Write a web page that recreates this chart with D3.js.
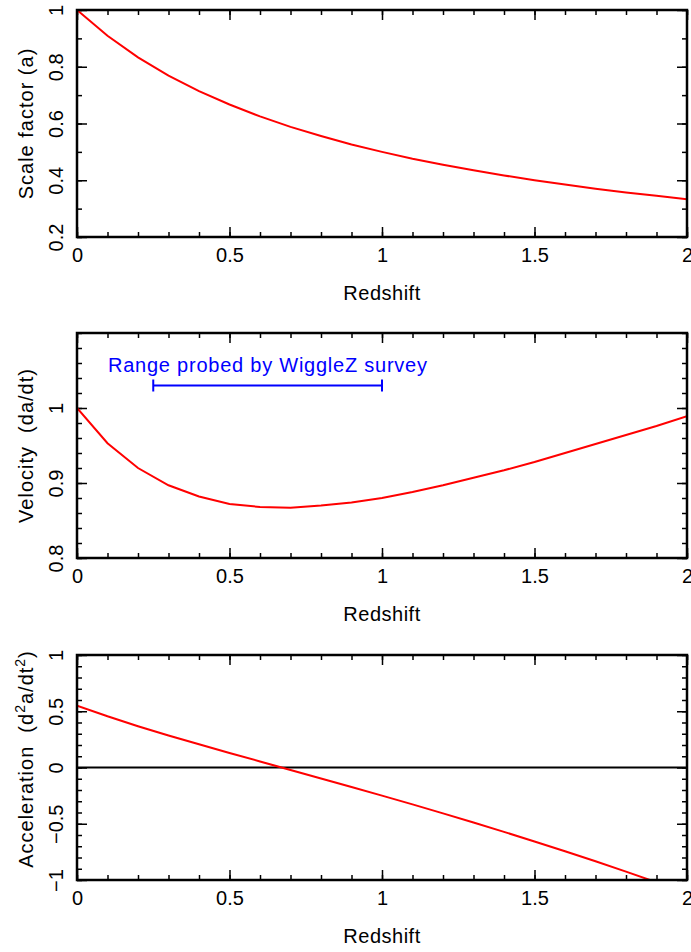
<!DOCTYPE html>
<html>
<head>
<meta charset="utf-8">
<script src="https://cdn.jsdelivr.net/npm/d3@7"></script>
<style>
  body { margin: 0; background: #fff; }
  svg { display: block; }
  text { font-family: "Liberation Sans", Arial, sans-serif; fill: #000; }
</style>
</head>
<body>
<div id="chart"></div>
<script>
// redshift grid used for all three curves
var redshift = [0, 0.1, 0.2, 0.3, 0.4, 0.5, 0.6, 0.7, 0.8, 0.9, 1.0,
                1.1, 1.2, 1.3, 1.4, 1.5, 1.6, 1.7, 1.8, 1.9, 2.0];

var scaleFactor = [1.000, 0.909, 0.833, 0.769, 0.714, 0.667, 0.625, 0.588, 0.556, 0.526, 0.500,
                   0.476, 0.455, 0.435, 0.417, 0.400, 0.385, 0.370, 0.357, 0.345, 0.333];

var velocity = [1.000, 0.953, 0.920, 0.897, 0.882, 0.872, 0.868, 0.867, 0.870, 0.874, 0.880,
                0.888, 0.897, 0.907, 0.917, 0.928, 0.940, 0.952, 0.964, 0.976, 0.989];

var acceleration = [0.550, 0.455, 0.367, 0.285, 0.206, 0.129, 0.054, -0.022, -0.097, -0.173, -0.250,
                    -0.328, -0.408, -0.489, -0.572, -0.658, -0.745, -0.834, -0.926, -1.020, -1.117];

// annotation: redshift range of WiggleZ
var wigglezRange = [0.25, 1.0];
var wigglezLabel = 'Range probed by WiggleZ survey';

var xMajor = [0, 0.5, 1, 1.5, 2];
var panels = [
    { key: 'a', title: 'Scale factor (a)', values: scaleFactor, domain: [0.2, 1],
      major: [0.2, 0.4, 0.6, 0.8, 1], minorStep: 0.1, top: 10, bottom: 237 },
    { key: 'v', title: 'Velocity  (da/dt)', values: velocity, domain: [0.8, 1.1],
      major: [0.8, 0.9, 1], minorStep: 0.02, top: 333, bottom: 558 },
    { key: 'acc', title: null, values: acceleration, domain: [-1, 1],
      major: [-1, -0.5, 0, 0.5, 1], minorStep: 0.1, top: 655, bottom: 880 }
];

var width = 691, height = 952,
    left = 77, right = 687,
    majorLen = 10, minorLen = 5;

var svg = d3.select('#chart')
    .append('svg')
    .attr('width', width)
    .attr('height', height);

var x = d3.scaleLinear().domain([0, 2]).range([left, right]);
var xMinor = d3.range(0, 2.0001, 0.1).map(d => +d.toFixed(2));

function fmt(d) {
    return d3.format('')(+d.toFixed(2)).replace('-', '\u2212');
}

panels.forEach((p, i) => {
    var y = d3.scaleLinear().domain(p.domain).range([p.bottom, p.top]);
    var yMinor = d3.range(p.domain[0], p.domain[1] + 1e-6, p.minorStep).map(d => +d.toFixed(3));
    var g = svg.append('g').attr('class', 'panel-' + p.key);

    var clipId = 'clip' + i;
    svg.append('clipPath').attr('id', clipId)
        .append('rect')
        .attr('x', left).attr('y', p.top)
        .attr('width', right - left).attr('height', p.bottom - p.top);

    // ticks on all four sides, pointing inward
    function tickAxis(axis, vals, len, transform) {
        var a = g.append('g')
            .attr('transform', transform)
            .call(axis.tickValues(vals).tickSize(-len).tickSizeOuter(0).tickFormat(''));
        a.select('.domain').remove();
        a.selectAll('line').attr('stroke', '#000').attr('stroke-width', 1.5);
        return a;
    }
    tickAxis(d3.axisBottom(x), xMinor, minorLen, `translate(0,${p.bottom})`);
    tickAxis(d3.axisTop(x), xMinor, minorLen, `translate(0,${p.top})`);
    tickAxis(d3.axisLeft(y), yMinor, minorLen, `translate(${left},0)`);
    tickAxis(d3.axisRight(y), yMinor, minorLen, `translate(${right},0)`);
    tickAxis(d3.axisTop(x), xMajor, majorLen, `translate(0,${p.top})`);
    tickAxis(d3.axisRight(y), p.major, majorLen, `translate(${right},0)`);

    // labelled axes
    var xa = g.append('g')
        .attr('transform', `translate(0,${p.bottom})`)
        .call(d3.axisBottom(x).tickValues(xMajor).tickSize(-majorLen).tickSizeOuter(0).tickFormat(fmt));
    xa.select('.domain').remove();
    xa.selectAll('line').attr('stroke', '#000').attr('stroke-width', 1.5);
    xa.selectAll('text')
        .attr('y', 25).attr('dy', 0)
        .attr('font-size', 20)
        .attr('fill', '#000');

    var ya = g.append('g')
        .attr('transform', `translate(${left},0)`)
        .call(d3.axisLeft(y).tickValues(p.major).tickSize(-majorLen).tickSizeOuter(0).tickFormat(fmt));
    ya.select('.domain').remove();
    ya.selectAll('line').attr('stroke', '#000').attr('stroke-width', 1.5);
    ya.selectAll('text')
        .attr('x', 0).attr('y', 0).attr('dy', 0)
        .attr('transform', 'translate(-14,0) rotate(-90)')
        .attr('text-anchor', 'middle')
        .attr('font-size', 20)
        .attr('fill', '#000');

    // zero line in the acceleration panel
    if (p.key === 'acc') {
        g.append('line')
            .attr('x1', left).attr('x2', right)
            .attr('y1', y(0)).attr('y2', y(0))
            .attr('stroke', '#000').attr('stroke-width', 2);
    }

    // curve
    var line = d3.line()
        .x((d, k) => x(redshift[k]))
        .y(d => y(d));
    g.append('path')
        .datum(p.values)
        .attr('clip-path', `url(#${clipId})`)
        .attr('d', line)
        .attr('fill', 'none')
        .attr('stroke', '#ff0000')
        .attr('stroke-width', 2);

    // frame
    g.append('rect')
        .attr('x', left).attr('y', p.top)
        .attr('width', right - left).attr('height', p.bottom - p.top)
        .attr('fill', 'none')
        .attr('stroke', '#000')
        .attr('stroke-width', 2.5);

    // x title
    g.append('text')
        .attr('x', (left + right) / 2)
        .attr('y', p.bottom + 63)
        .attr('text-anchor', 'middle')
        .attr('font-size', 20)
        .attr('letter-spacing', 0.5)
        .text('Redshift');

    // y title
    var cy = p.key === 'acc' ? 759 : (p.top + p.bottom) / 2;
    var yt = g.append('text')
        .attr('transform', `translate(33,${cy}) rotate(-90)`)
        .attr('text-anchor', 'middle')
        .attr('font-size', 20)
        .attr('letter-spacing', 1)
        .style('white-space', 'pre');
    if (p.title) {
        yt.text(p.title);
    } else {
        yt.append('tspan').text('Acceleration  (d');
        yt.append('tspan').attr('font-size', 14).attr('dy', -8).text('2');
        yt.append('tspan').attr('dy', 8).text('a/dt');
        yt.append('tspan').attr('font-size', 14).attr('dy', -8).text('2');
        yt.append('tspan').attr('dy', 8).text(')');
    }

    // WiggleZ range marker
    if (p.key === 'v') {
        var by = y(1.03);
        g.append('line')
            .attr('x1', x(wigglezRange[0])).attr('x2', x(wigglezRange[1]))
            .attr('y1', by).attr('y2', by)
            .attr('stroke', '#0000ff').attr('stroke-width', 2);
        wigglezRange.forEach(z => {
            g.append('line')
                .attr('x1', x(z)).attr('x2', x(z))
                .attr('y1', by - 6).attr('y2', by + 6)
                .attr('stroke', '#0000ff').attr('stroke-width', 2);
        });
        g.append('text')
            .attr('x', 108)
            .attr('y', y(1.03) - 14)
            .attr('textLength', 319)
            .attr('lengthAdjust', 'spacing')
            .attr('font-size', 20)
            .style('fill', '#0000ff')
            .text(wigglezLabel);
    }
});
</script>
</body>
</html>
